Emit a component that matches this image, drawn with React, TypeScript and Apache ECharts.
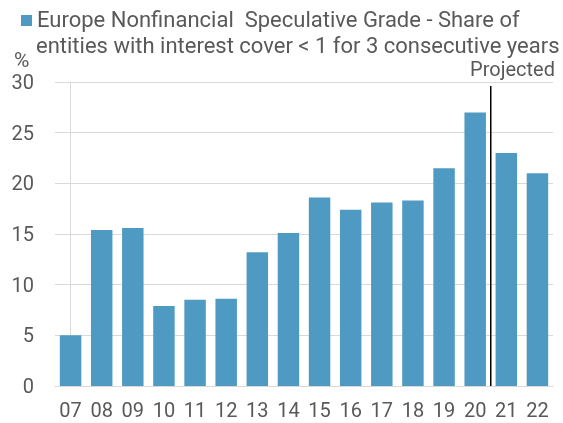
import React, { useEffect, useRef } from "react";
import * as echarts from "echarts";

const categories = ["07", "08", "09", "10", "11", "12", "13", "14", "15", "16", "17", "18", "19", "20", "21", "22"];
const shareValues = [5.0, 15.4, 15.6, 7.9, 8.5, 8.6, 13.2, 15.1, 18.6, 17.4, 18.1, 18.3, 21.5, 27.0, 23.0, 21.0];
const projectedDivider = [[13.5, 0], [13.5, 29.6]];
const legendLines = [
  "Europe Nonfinancial  Speculative Grade - Share of",
  "entities with interest cover < 1 for 3 consecutive years",
];

const TEXT = "#595959";
const FONT = "Roboto";

export default function App() {
  const ref = useRef<HTMLDivElement>(null);
  useEffect(() => {
    if (!ref.current) return;
    const chart = echarts.init(ref.current, null, { renderer: "svg" });
    chart.setOption({
      animation: false,
      textStyle: { fontFamily: FONT },
      grid: { left: 55, right: 10, top: 82, bottom: 37, containLabel: false },
      xAxis: [
        {
          type: "category",
          data: categories,
          axisLine: { show: true, lineStyle: { color: "#d9d9d9", width: 1 } },
          axisTick: { show: false },
          axisLabel: { color: TEXT, fontSize: 20, lineHeight: 16, margin: 16, fontFamily: FONT },
        },
        {
          type: "value",
          min: -0.5,
          max: 15.5,
          show: false,
        },
      ],
      yAxis: {
        type: "value",
        min: 0,
        max: 30,
        interval: 5,
        axisLine: { show: true, lineStyle: { color: "#d9d9d9", width: 1 } },
        axisTick: { show: true, length: 7, lineStyle: { color: "#d9d9d9" } },
        axisLabel: { color: TEXT, fontSize: 20, margin: 21, fontFamily: FONT },
        splitLine: { show: true, lineStyle: { color: "#d9d9d9", width: 1 } },
      },
      series: [
        {
          type: "bar",
          data: shareValues,
          barCategoryGap: "31%",
          itemStyle: { color: "#4f9ac2" },
        },
        {
          type: "line",
          xAxisIndex: 1,
          data: projectedDivider,
          symbol: "none",
          lineStyle: { color: "#000000", width: 1.5 },
          silent: true,
        },
      ],
      graphic: [
        { type: "rect", left: 21, top: 15, shape: { width: 11, height: 11 }, style: { fill: "#4f9ac2" } },
        {
          type: "text",
          left: 37,
          top: 8,
          style: { text: legendLines[0], fill: TEXT, font: `22px ${FONT}` },
        },
        {
          type: "text",
          left: 36,
          top: 34,
          style: { text: legendLines[1], fill: TEXT, font: `22px ${FONT}` },
        },
        { type: "text", left: 14, top: 49, style: { text: "%", fill: TEXT, font: `21px ${FONT}` } },
        { type: "text", right: 8, top: 59, style: { text: "Projected", fill: TEXT, font: `20px ${FONT}` } },
      ],
    });
    return () => chart.dispose();
  }, []);
  return <div ref={ref} style={{ position: "fixed", left: 0, top: 0, width: 563, height: 423 }} />;
}
